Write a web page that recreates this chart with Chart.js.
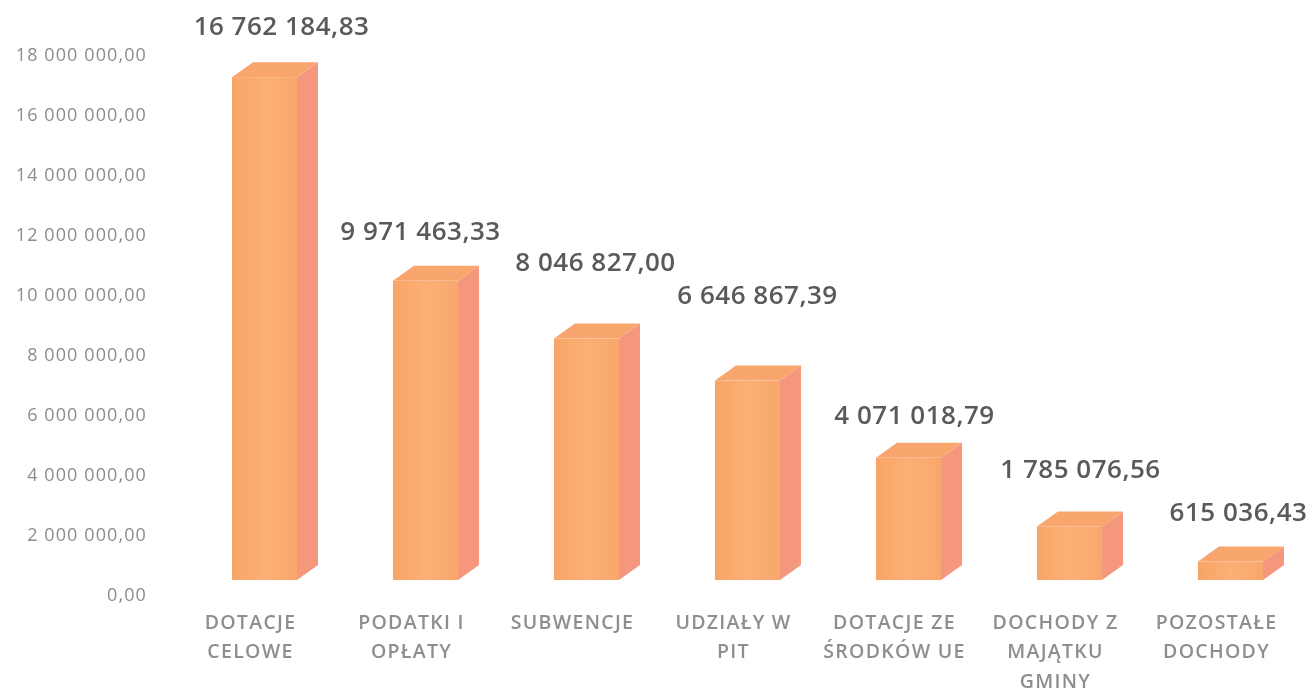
<!DOCTYPE html>
<html>
<head>
<meta charset="utf-8">
<script src="https://cdn.jsdelivr.net/npm/chart.js@4"></script>
<style>
  html, body { margin: 0; padding: 0; background: #fff; }
</style>
</head>
<body>
<canvas id="myChart" width="1312" height="690"></canvas>
<script>
// data
var categories = [
  ['DOTACJE', 'CELOWE'],
  ['PODATKI I', 'OPŁATY'],
  ['SUBWENCJE'],
  ['UDZIAŁY W', 'PIT'],
  ['DOTACJE ZE', 'ŚRODKÓW UE'],
  ['DOCHODY Z', 'MAJĄTKU', 'GMINY'],
  ['POZOSTAŁE', 'DOCHODY']
];
var values = [16762184.83, 9971463.33, 8046827.00, 6646867.39, 4071018.79, 1785076.56, 615036.43];
var yTicks = [0, 2000000, 4000000, 6000000, 8000000, 10000000, 12000000, 14000000, 16000000, 18000000];

// where each value label sits, relative to the bar (pixels)
var labelShiftX = [31, 9, 23, 24, 20, 25, 22];
var labelShiftY = [-35, -33, -60, -69, -26, -41, -33];

function plNum(v) {
  var s = v.toFixed(2).split('.');
  return s[0].replace(/\B(?=(\d{3})+(?!\d))/g, ' ') + ',' + s[1];
}

// 3d look
var depthX = 21, depthY = 15, lift = 16, shiftX = 14;

var bars3d = {
  id: 'bars3d',
  afterUpdate: function (chart) {
    // letter spacing for the tick labels
    [['x', '1.3px'], ['y', '1.1px']].forEach(function (p) {
      var s = chart.scales[p[0]];
      if (s && !s._spaced) {
        var orig = s.drawLabels;
        s.drawLabels = function (area) {
          chart.ctx.save();
          chart.ctx.letterSpacing = p[1];
          orig.call(s, area);
          chart.ctx.restore();
        };
        s._spaced = true;
      }
    });
  },
  afterDatasetsDraw: function (chart) {
    var ctx = chart.ctx;
    var meta = chart.getDatasetMeta(0);
    meta.data.forEach(function (bar, i) {
      var w = bar.width;
      var x0 = bar.x + shiftX - w / 2, x1 = x0 + w;
      var top = bar.y - lift, bot = bar.base - lift;

      ctx.save();
      // side
      ctx.fillStyle = '#F4977C';
      ctx.beginPath();
      ctx.moveTo(x1, top);
      ctx.lineTo(x1 + depthX, top - depthY);
      ctx.lineTo(x1 + depthX, bot - depthY);
      ctx.lineTo(x1, bot);
      ctx.closePath();
      ctx.fill();
      // top
      ctx.fillStyle = '#F9A56E';
      ctx.beginPath();
      ctx.moveTo(x0, top);
      ctx.lineTo(x0 + depthX, top - depthY);
      ctx.lineTo(x1 + depthX, top - depthY);
      ctx.lineTo(x1, top);
      ctx.closePath();
      ctx.fill();
      // front
      var g = ctx.createLinearGradient(x0, 0, x1, 0);
      g.addColorStop(0, '#F9A467');
      g.addColorStop(0.5, '#FBB075');
      g.addColorStop(1, '#F9A76C');
      ctx.fillStyle = g;
      ctx.fillRect(x0, top, w, bot - top);

      // value label
      ctx.font = '600 26px "Open Sans"';
      ctx.fillStyle = '#5a5a5a';
      ctx.textAlign = 'center';
      ctx.textBaseline = 'middle';
      ctx.letterSpacing = '0.5px';
      ctx.fillText(plNum(values[i]), bar.x + labelShiftX[i], top - depthY + labelShiftY[i]);
      ctx.restore();
    });
  }
};

var ctx = document.getElementById('myChart').getContext('2d');
var myChart = new Chart(ctx, {
  type: 'bar',
  data: {
    labels: categories,
    datasets: [{
      data: values,
      backgroundColor: 'rgba(0,0,0,0)',
      borderWidth: 0,
      categoryPercentage: 1,
      barPercentage: 0.404
    }]
  },
  options: {
    responsive: false,
    animation: false,
    layout: { padding: { top: 56, right: 15, left: 0, bottom: 0 } },
    plugins: {
      legend: { display: false },
      tooltip: { enabled: false }
    },
    scales: {
      x: {
        grid: { display: false, drawTicks: false },
        border: { display: false },
        afterFit: function (s) { s.height = 94; },
        ticks: {
          padding: 13,
          maxRotation: 0,
          autoSkip: false,
          color: '#8e8e8e',
          font: { family: 'Open Sans', size: 19.5, weight: '600', lineHeight: 1.5 }
        }
      },
      y: {
        min: 0,
        max: 18000000,
        grid: { display: false, drawTicks: false },
        border: { display: false },
        afterFit: function (s) { s.width = 170; },
        afterBuildTicks: function (s) {
          s.ticks = yTicks.map(function (v) { return { value: v }; });
        },
        ticks: {
          padding: 23,
          color: '#8c8c8c',
          font: { family: 'Open Sans', size: 18 },
          callback: function (v) { return plNum(v); }
        }
      }
    }
  },
  plugins: [bars3d]
});
</script>
</body>
</html>
